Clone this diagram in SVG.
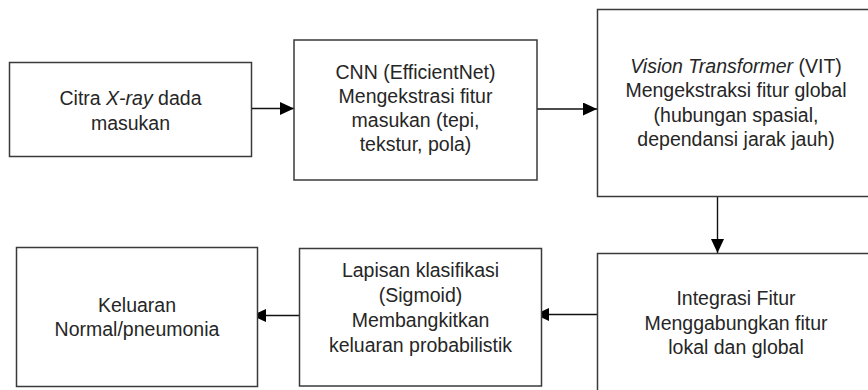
<svg xmlns="http://www.w3.org/2000/svg" width="868" height="390" viewBox="0 0 868 390">
<defs>
<style>
.box{fill:#fff;stroke:#3a3a3a;stroke-width:1.5}
.t{font-family:"Liberation Sans",Arial,sans-serif;font-size:19.5px;fill:#262626;text-anchor:middle}
.i{font-style:italic}
.c{stroke:#111;stroke-width:1.4;fill:none;marker-end:url(#ah)}
</style>
<marker id="ah" markerUnits="userSpaceOnUse" markerWidth="14" markerHeight="13" refX="14" refY="6.5" orient="auto">
<path d="M0,0 L14,6.5 L0,13 Z" fill="#000"/>
</marker>
</defs>
<rect width="868" height="390" fill="#fff"/>
<g id="connectors">
<line class="c" x1="251.5" y1="108.5" x2="294" y2="108.5"/>
<line class="c" x1="537" y1="109" x2="597" y2="109"/>
<line class="c" x1="717.5" y1="196.5" x2="717.5" y2="253"/>
<line class="c" x1="597.5" y1="314.5" x2="535" y2="314.5"/>
<line class="c" x1="299.5" y1="315.5" x2="252" y2="315.5"/>
</g>
<g id="n1">
<rect class="box" x="9.5" y="62.5" width="242" height="94"/>
<text class="t" x="130.5" y="105">Citra <tspan class="i">X-ray</tspan> dada</text>
<text class="t" x="130.5" y="129.5">masukan</text>
</g>
<g id="n2">
<rect class="box" x="294" y="40" width="243" height="140"/>
<text class="t" x="415.5" y="78.5">CNN (EfficientNet)</text>
<text class="t" x="415.5" y="102.5">Mengekstrasi fitur</text>
<text class="t" x="415.5" y="127">masukan (tepi,</text>
<text class="t" x="415.5" y="151">tekstur, pola)</text>
</g>
<g id="n3">
<rect class="box" x="597.5" y="9.5" width="278" height="187"/>
<text class="t" x="736" y="72.5"><tspan class="i">Vision Transformer</tspan> (VIT)</text>
<text class="t" x="736" y="97">Mengekstraksi fitur global</text>
<text class="t" x="736" y="121.5">(hubungan spasial,</text>
<text class="t" x="736" y="146">dependansi jarak jauh)</text>
</g>
<g id="n4">
<rect class="box" x="597.5" y="253.5" width="278" height="150"/>
<text class="t" x="736" y="305">Integrasi Fitur</text>
<text class="t" x="736" y="329.5">Menggabungkan fitur</text>
<text class="t" x="736" y="353.5">lokal dan global</text>
</g>
<g id="n5">
<rect class="box" x="299.5" y="248.5" width="242" height="137.5"/>
<text class="t" x="420.5" y="277">Lapisan klasifikasi</text>
<text class="t" x="420.5" y="301.5">(Sigmoid)</text>
<text class="t" x="420.5" y="326.5">Membangkitkan</text>
<text class="t" x="420.5" y="351.5">keluaran probabilistik</text>
</g>
<g id="n6">
<rect class="box" x="16.5" y="247.5" width="241" height="139"/>
<text class="t" x="137" y="311.5">Keluaran</text>
<text class="t" x="137" y="335.5">Normal/pneumonia</text>
</g>
</svg>
